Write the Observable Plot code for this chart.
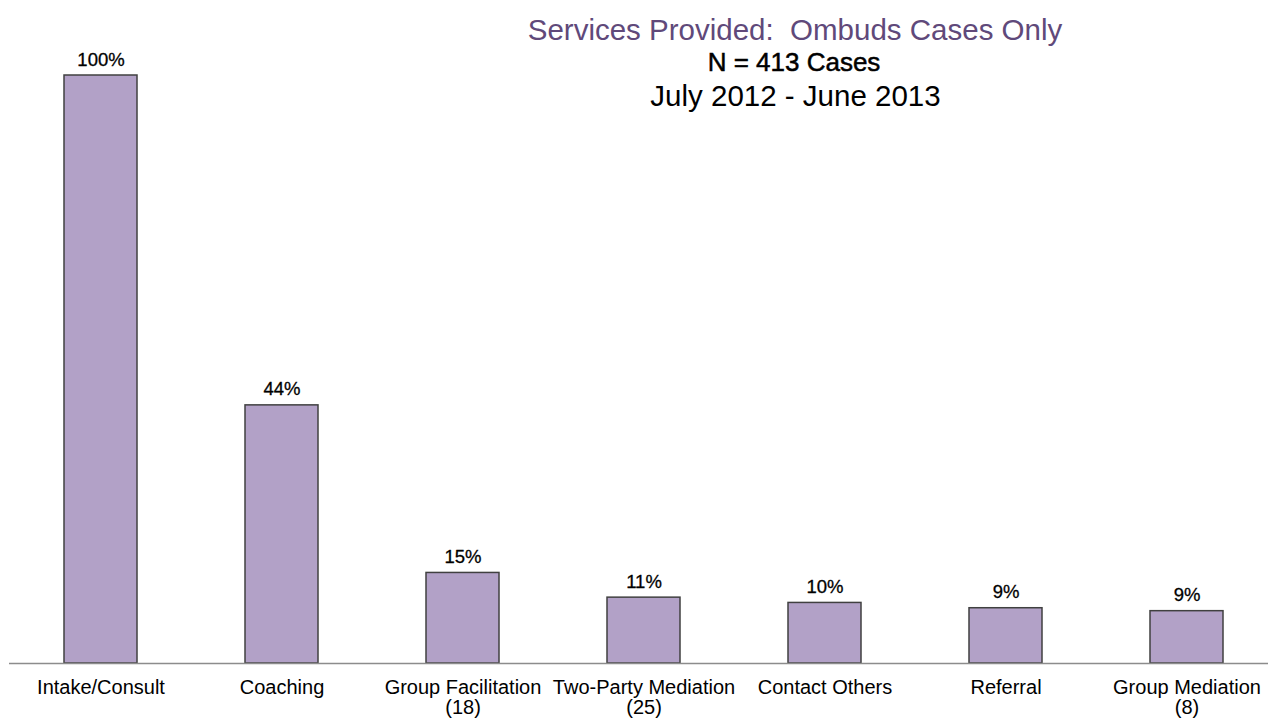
<!DOCTYPE html>
<html>
<head>
<meta charset="utf-8">
<script src="https://cdn.jsdelivr.net/npm/d3@7"></script>
<script src="https://cdn.jsdelivr.net/npm/@observablehq/plot@0.6"></script>
<style>
  html, body { margin: 0; padding: 0; background: #fff; }
  #wrap { position: relative; width: 1268px; height: 722px; font-family: "Liberation Sans", Arial, sans-serif; }
  .t { position: absolute; width: 600px; text-align: center; line-height: 1; white-space: pre; }
  #chart svg { display: block; }
</style>
</head>
<body>
<div id="wrap">
  <div id="chart"></div>
  <div class="t" id="title" style="left:495px; top:14.5px; font-size:29.5px; color:#60497a;"></div>
  <div class="t" id="sub1" style="left:494px; top:49px; font-size:26px; color:#000; -webkit-text-stroke:0.5px #000;"></div>
  <div class="t" id="sub2" style="left:495.5px; top:80.5px; font-size:29.5px; color:#000;"></div>
</div>
<script>
const categories = ["Intake/Consult", "Coaching", "Group Facilitation\n(18)", "Two-Party Mediation\n(25)", "Contact Others", "Referral", "Group Mediation\n(8)"];
const values = [100, 43.9, 15.4, 11.2, 10.3, 9.4, 8.9];
const valueLabels = ["100%", "44%", "15%", "11%", "10%", "9%", "9%"];
const titleText = "Services Provided:  Ombuds Cases Only";
const subtitle1 = "N = 413 Cases";
const subtitle2 = "July 2012 - June 2013";

document.getElementById("title").textContent = titleText;
document.getElementById("sub1").textContent = subtitle1;
document.getElementById("sub2").textContent = subtitle2;

const data = categories.map((c, i) => ({cat: c, value: values[i], label: valueLabels[i]}));

const chart = Plot.plot({
  width: 1268,
  height: 722,
  marginTop: 75,
  marginBottom: 59,
  marginLeft: 9,
  marginRight: 0,
  style: {fontFamily: "Liberation Sans, Arial, sans-serif", background: "#fff", color: "#000"},
  x: {domain: categories, range: [9.5, 1276.5], paddingInner: 0.597, paddingOuter: 0.2985},
  y: {domain: [0, 100], axis: null},
  marks: [
    Plot.barY(data, {x: "cat", y: "value", fill: "#b2a1c7", stroke: "#404040", strokeWidth: 1.5}),
    Plot.ruleY([0], {stroke: "#8c8c8c", strokeWidth: 1.5}),
    Plot.text(data, {x: "cat", y: "value", text: "label", lineAnchor: "bottom", dy: -10, fontSize: 18.5, fill: "#000", stroke: "#000", strokeWidth: 0.3}),
    Plot.axisX({anchor: "bottom", tickSize: 0, tickPadding: 15, dy: 1, fontSize: 20, lineHeight: 1.0, label: null, fill: "#000", stroke: "#000", strokeWidth: 0.3})
  ]
});
document.getElementById("chart").appendChild(chart);
</script>
</body>
</html>
